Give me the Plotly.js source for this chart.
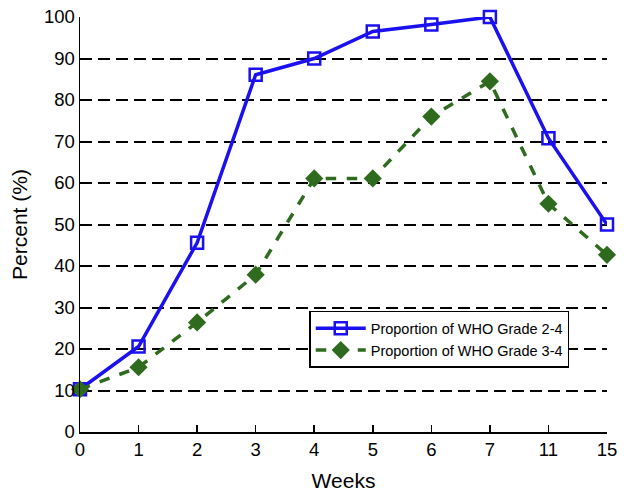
<!DOCTYPE html>
<html><head><meta charset="utf-8">
<script src="https://cdn.plot.ly/plotly-3.0.1.min.js"></script>
<style>html,body{margin:0;padding:0;background:#fff}#c{width:624px;height:495px}</style>
</head><body><div id="c"></div>
<script>
const weeks = ['0','1','2','3','4','5','6','7','11','15'];
const grade24 = [10.3, 20.6, 45.6, 86.1, 90, 96.5, 98.2, 100, 70.8, 50];
const grade34 = [10.3, 15.6, 26.4, 37.9, 61.1, 61.1, 76, 84.5, 55, 42.7];
const yTicks = [0,10,20,30,40,50,60,70,80,90,100];

const traces = [
  {x: weeks, y: grade24, name: 'Proportion of WHO Grade 2-4', type: 'scatter', mode: 'lines+markers',
   line: {color: '#1a10f0', width: 3.5},
   marker: {symbol: 'square-open', size: 12, color: '#1a10f0', line: {width: 2.5, color: '#1a10f0'}},
   cliponaxis: false},
  {x: weeks, y: grade34, name: 'Proportion of WHO Grade 3-4', type: 'scatter', mode: 'lines+markers',
   line: {color: '#2f6b1f', width: 3.5, dash: 'dash'},
   marker: {symbol: 'diamond', size: 14, color: '#2f6b1f'},
   cliponaxis: false}
];
const font = {family: '"Liberation Sans", Arial, sans-serif', color: '#000'};
const layout = {
  width: 624, height: 495,
  margin: {l: 80, r: 17, t: 17, b: 63},
  paper_bgcolor: '#fff', plot_bgcolor: '#fff',
  font: font,
  showlegend: true,
  legend: {x: 0.435, y: 0.292, xanchor: 'left', yanchor: 'top', bgcolor: '#fff',
           bordercolor: '#000', borderwidth: 1.5, font: {size: 14.5, family: font.family},
           tracegroupgap: 0, itemwidth: 50},
  xaxis: {type: 'category', range: [0, 9], showgrid: false, zeroline: false,
          showline: true, linecolor: '#000', linewidth: 1.5,
          ticks: 'inside', ticklen: 7, tickwidth: 1.5, tickcolor: '#000',
          tickfont: {size: 18.5}, title: {text: 'Weeks', font: {size: 21}, standoff: 14}},
  yaxis: {range: [0, 100], tickvals: yTicks, showgrid: true, gridcolor: '#000', gridwidth: 2,
          griddash: '12px,6px', zeroline: false, showline: true, linecolor: '#000', linewidth: 1.5,
          ticks: '', tickfont: {size: 18.5},
          title: {text: 'Percent (%)', font: {size: 21}, standoff: 10}}
};
Plotly.newPlot('c', traces, layout, {displayModeBar: false, staticPlot: true});
</script></body></html>
